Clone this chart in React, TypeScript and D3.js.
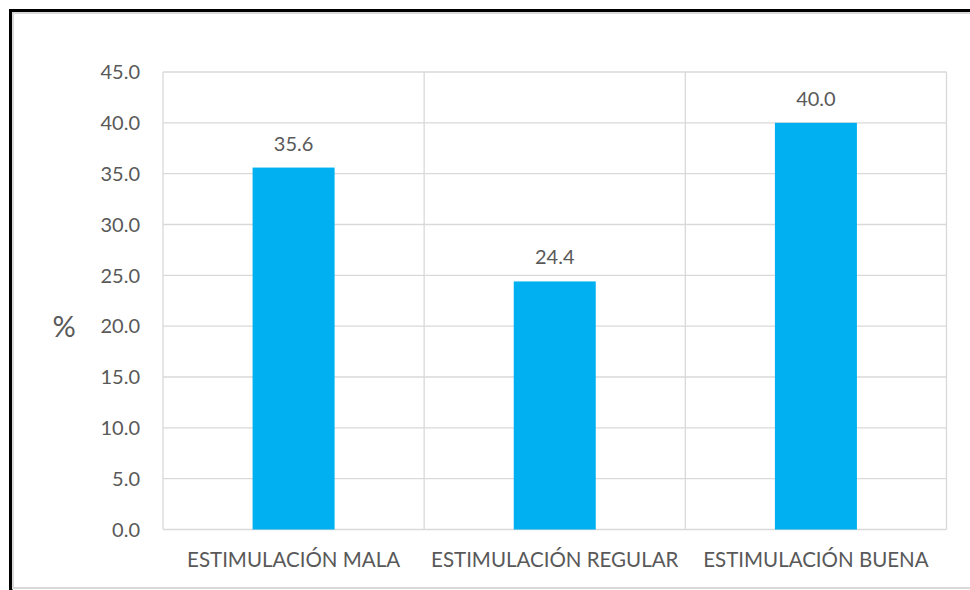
import React from "react";
import * as d3 from "d3";

const categories = ["ESTIMULACIÓN MALA", "ESTIMULACIÓN REGULAR", "ESTIMULACIÓN BUENA"];
const values = [35.6, 24.4, 40.0];
const yTicks = [0, 5, 10, 15, 20, 25, 30, 35, 40, 45];
const yAxisLabel = "%";

const W = 970;
const H = 590;
const plot = { left: 163, right: 946.5, top: 72, bottom: 529.5 };
const FONT = "Lato, 'Open Sans', sans-serif";
const TEXT = "#595959";
const GRID = "#D9D9D9";
const BAR = "#00B0F0";

export default function App() {
  const x = d3.scaleBand<string>().domain(categories).range([plot.left, plot.right]).padding(0);
  const y = d3.scaleLinear().domain([0, 45]).range([plot.bottom, plot.top]);
  const bw = x.bandwidth() * 0.314;
  const fmt = d3.format(".1f");

  return (
    <svg width={W} height={H} style={{ position: "absolute", left: 0, top: 0 }} fontFamily={FONT}>
      <rect x={0} y={0} width={W} height={H} fill="#fff" />
      {/* outer black frame */}
      <rect x={9} y={9} width={3.5} height={H} fill="#000" />
      <rect x={9} y={9} width={W} height={3} fill="#000" />
      {/* chart area border */}
      <rect x={13} y={13} width={W + 10} height={575} fill="none" stroke={GRID} strokeWidth={2} />
      {/* horizontal grid */}
      {yTicks.map((t) => (
        <line key={t} x1={plot.left} x2={plot.right} y1={y(t)} y2={y(t)} stroke={GRID} strokeWidth={1.3} />
      ))}
      {/* category separators + plot border */}
      {categories.map((c) => (
        <line key={c} x1={x(c)!} x2={x(c)!} y1={plot.top} y2={plot.bottom} stroke={GRID} strokeWidth={1.3} />
      ))}
      <line x1={plot.right} x2={plot.right} y1={plot.top} y2={plot.bottom} stroke={GRID} strokeWidth={1.3} />
      {/* bars */}
      {categories.map((c, i) => {
        const cx = x(c)! + x.bandwidth() / 2;
        return (
          <g key={c}>
            <rect x={cx - bw / 2} y={y(values[i])} width={bw} height={y(0) - y(values[i])} fill={BAR} />
            <text x={cx} y={y(values[i]) - 17} textAnchor="middle" fontSize={20} fill={TEXT}>
              {fmt(values[i])}
            </text>
            <text x={cx} y={567} textAnchor="middle" fontSize={20.5} fill={TEXT}>
              {c}
            </text>
          </g>
        );
      })}
      {/* y tick labels */}
      {yTicks.map((t) => (
        <text key={t} x={140} y={y(t)} dy="0.36em" textAnchor="end" fontSize={20} fill={TEXT}>
          {fmt(t)}
        </text>
      ))}
      <text x={64} y={y(20)} dy="0.36em" textAnchor="middle" fontSize={29} fill={TEXT}>
        {yAxisLabel}
      </text>
    </svg>
  );
}
